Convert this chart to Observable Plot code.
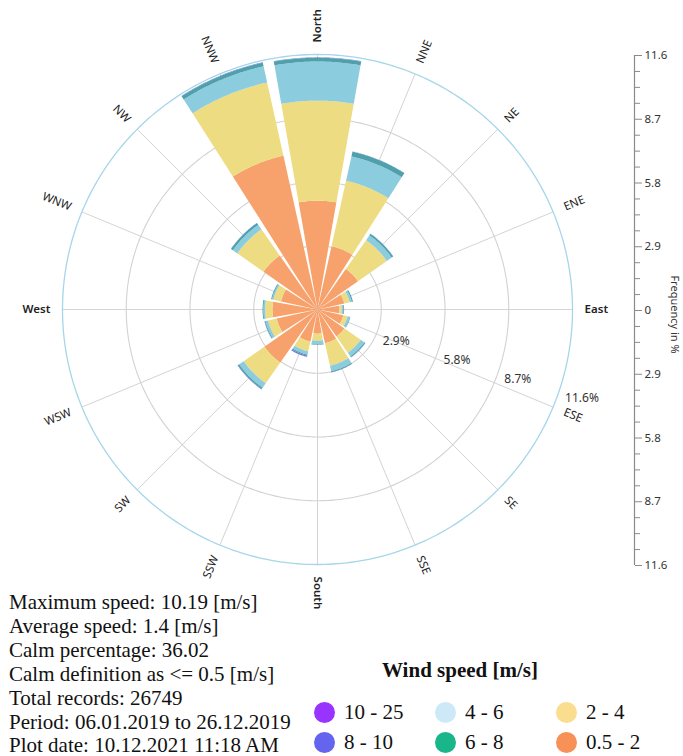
<!DOCTYPE html>
<html>
<head>
<meta charset="utf-8">
<script src="https://cdn.jsdelivr.net/npm/d3@7"></script>
<script src="https://cdn.jsdelivr.net/npm/@observablehq/plot@0.6"></script>
<style>
  body { margin: 0; background: #fff; }
  #wrap { position: relative; width: 683px; height: 756px; overflow: hidden; background: #fff; }
  #wrap svg { position: absolute; left: 0; top: 0; }
  .info { position: absolute; left: 9px; top: 591px; font-family: "Liberation Serif", "Times New Roman", serif; font-size: 21px; line-height: 23.9px; color: #111; white-space: nowrap; }
  .legtitle { position: absolute; left: 360px; width: 200px; top: 658px; text-align: center; font-family: "Liberation Serif", serif; font-weight: bold; font-size: 21px; line-height: 24px; color: #111; white-space: nowrap; }
  .legdot { position: absolute; width: 21px; height: 21px; border-radius: 50%; }
  .leglab { position: absolute; font-family: "Liberation Serif", serif; font-size: 21px; line-height: 24px; color: #111; white-space: nowrap; }
</style>
</head>
<body>
<div id="wrap"></div>
<script>
// ---------- data ----------
const directions = ["North","NNE","NE","ENE","East","ESE","SE","SSE","South","SSW","SW","WSW","West","WNW","NW","NNW"];
const cardinals = ["North","East","South","West"];
const speedClasses = ["0.5 - 2","2 - 4","4 - 6","6 - 8","8 - 10","10 - 25"];

// frequency (%) per direction, one array per wind-speed class
const freq_05_2  = [4.95, 2.95, 2.25, 1.25, 1.00, 1.20, 1.50, 1.57, 1.10, 1.50, 2.95, 1.90, 2.05, 1.70, 3.00, 7.17];
const freq_2_4   = [4.55, 3.05, 1.60, 0.25, 0.10, 0.20, 0.90, 1.05, 0.32, 0.45, 1.15, 0.40, 0.33, 0.35, 1.45, 3.41];
const freq_4_6   = [1.78, 1.13, 0.27, 0.10, 0.07, 0.10, 0.20, 0.26, 0.16, 0.15, 0.25, 0.12, 0.08, 0.07, 0.25, 0.75];
const freq_6_8   = [0.17, 0.22, 0.08, 0.05, 0.03, 0.02, 0.05, 0.04, 0.02, 0.05, 0.07, 0.04, 0.04, 0.04, 0.10, 0.17];
const freq_8_10  = [0.02, 0.01, 0.01, 0.00, 0.01, 0.01, 0.01, 0.01, 0.01, 0.05, 0.02, 0.01, 0.00, 0.00, 0.01, 0.02];
const freq_10_25 = [0.00, 0.00, 0.00, 0.00, 0.00, 0.00, 0.00, 0.00, 0.00, 0.01, 0.00, 0.00, 0.00, 0.00, 0.00, 0.00];

const ringValues = [2.9, 5.8, 8.7, 11.6];
const ringLabels = ["2.9%", "5.8%", "8.7%", "11.6%"];
const axisTicks = [11.6, 8.7, 5.8, 2.9, 0, -2.9, -5.8, -8.7, -11.6];
const axisLabel = "Frequency in %";
const maxR = 11.6;

const infoLines = [
  "Maximum speed: 10.19 [m/s]",
  "Average speed: 1.4 [m/s]",
  "Calm percentage: 36.02",
  "Calm definition as <= 0.5 [m/s]",
  "Total records: 26749",
  "Period: 06.01.2019 to 26.12.2019",
  "Plot date: 10.12.2021 11:18 AM"
];
const legendTitle = "Wind speed [m/s]";

// colours
const barColors    = ["#F7A26D", "#EEDC82", "#8BCCDE", "#4FA0AB", "#5A80D2", "#9B40F0"];
const legendColors = ["#F79157", "#FADD8E", "#CDE9F8", "#19B68A", "#6464EE", "#9933FF"];

// ---------- derived table ----------
const series = [freq_05_2, freq_2_4, freq_4_6, freq_6_8, freq_8_10, freq_10_25];
const step = 360 / directions.length;
const dirTable = directions.map((name, i) => ({name, bearing: i * step}));

const lon = b => 180 - b;    // compass bearing -> longitude (pole-centred view)
const lat = r => 90 - r;     // frequency -> latitude

const halfWidth = 10;        // angular half-width of a petal (deg)
const features = [];
dirTable.forEach((d, i) => {
  let cum = 0;
  series.forEach((s, k) => {
    const v = s[i];
    if (v > 0) {
      const r0 = cum, r1 = cum + v;
      const a = lon(d.bearing) - halfWidth, b = lon(d.bearing) + halfWidth;
      const ring = [];
      const n = 40;
      if (r0 <= 0) ring.push([lon(d.bearing), 90]);
      else for (let j = 0; j <= n; j++) ring.push([a + (b - a) * j / n, lat(r0)]);
      for (let j = 0; j <= n; j++) ring.push([b - (b - a) * j / n, lat(r1)]);
      ring.push(ring[0]);
      features.push({type: "Feature", properties: {dir: d.name, cls: speedClasses[k]}, geometry: {type: "Polygon", coordinates: [ring]}});
    }
    cum += v;
  });
});

const labelR = 12.15;
const rightSide = dirTable.filter(d => d.bearing <= 180);
const leftSide = dirTable.filter(d => d.bearing > 180);
const isCard = d => cardinals.includes(d.name);

const labelOpts = (anchor, rot, weight) => ({
  x: d => lon(d.bearing), y: () => lat(labelR), text: d => d.name,
  rotate: rot, textAnchor: anchor, fontSize: 11.5, fontWeight: weight, fill: "#222"
});

const rose = Plot.plot({
  width: 683, height: 756,
  marginLeft: 62, marginRight: 111, marginTop: 54, marginBottom: 192,
  projection: {type: "azimuthal-equidistant", rotate: [0, -90], clip: false, domain: d3.geoCircle().center([0, 90]).radius(maxR)()},
  color: {domain: speedClasses, range: barColors},
  style: {fontFamily: "'Noto Sans', sans-serif", background: "transparent", overflow: "visible"},
  marks: [
    Plot.link(dirTable, {x1: d => lon(d.bearing), y1: () => 90, x2: d => lon(d.bearing), y2: () => lat(maxR), stroke: "#d4d4d4", strokeWidth: 1}),
    Plot.geo(ringValues.slice(0, -1).map(r => d3.geoCircle().center([0, 90]).radius(r).precision(1)()), {stroke: "#d2d2d2", strokeWidth: 1.1, fill: "none"}),
    Plot.geo([d3.geoCircle().center([0, 90]).radius(maxR).precision(1)()], {stroke: "#a6d6ea", strokeWidth: 1.3, fill: "none"}),
    Plot.geo(features, {fill: d => d.properties.cls, stroke: "none"}),
    Plot.text(ringValues, {x: () => lon(107.6), y: r => lat(r), text: (d, i) => ringLabels[i], dx: 4.5, dy: 12, textAnchor: "start", fontSize: 12, fill: "#333"}),
    Plot.text(rightSide.filter(d => !isCard(d)), labelOpts("start", d => d.bearing - 90, "normal")),
    Plot.text(rightSide.filter(isCard), labelOpts("start", d => d.bearing - 90, "600")),
    Plot.text(leftSide.filter(d => !isCard(d)), labelOpts("end", d => d.bearing - 270, "normal")),
    Plot.text(leftSide.filter(isCard), labelOpts("end", d => d.bearing - 270, "600"))
  ]
});

const minorTicks = d3.range(-16, 17).map(i => i * 0.725).filter(v => Math.abs(Math.round(v / 0.725)) % 4 !== 0);
const fmt = d => d === 0 ? "0" : Math.abs(d).toFixed(1);

const axis = Plot.plot({
  width: 683, height: 756,
  marginTop: 55, marginBottom: 191, marginLeft: 0, marginRight: 49,
  x: {domain: [0, 1], axis: null},
  y: {domain: [-11.6, 11.6], axis: null},
  style: {fontFamily: "'Noto Sans', sans-serif", background: "transparent", overflow: "visible"},
  marks: [
    Plot.ruleX([1], {y1: -11.6, y2: 11.6, stroke: "#8a8a8a", strokeWidth: 1.2}),
    Plot.axisY(minorTicks, {anchor: "right", tickSize: 5, tickFormat: () => "", stroke: "#8a8a8a", label: null}),
    Plot.axisY(axisTicks, {anchor: "right", tickSize: 7, tickPadding: 3, tickFormat: fmt, stroke: "#8a8a8a", fill: "#333", fontSize: 11.5, label: null}),
    Plot.text([axisLabel], {frameAnchor: "right", dx: 40, dy: 4, rotate: 90, textAnchor: "middle", fontSize: 11, fill: "#333"})
  ]
});

const wrap = document.getElementById("wrap");
wrap.appendChild(rose);
wrap.appendChild(axis);

// info text
const info = document.createElement("div");
info.className = "info";
info.innerHTML = infoLines.map(s => s.replace(/&/g, "&amp;").replace(/</g, "&lt;")).join("<br>");
wrap.appendChild(info);

// legend
const lt = document.createElement("div");
lt.className = "legtitle";
lt.textContent = legendTitle;
wrap.appendChild(lt);

const legendOrder = [5, 4, 2, 3, 1, 0];   // column-wise: 10-25, 8-10 | 4-6, 6-8 | 2-4, 0.5-2
const colX = [324, 445, 566];
const rowY = [712, 742];
legendOrder.forEach((k, j) => {
  const c = Math.floor(j / 2), r = j % 2;
  const dot = document.createElement("div");
  dot.className = "legdot";
  dot.style.left = (colX[c] - 10.5) + "px";
  dot.style.top = (rowY[r] - 10.5) + "px";
  dot.style.background = legendColors[k];
  wrap.appendChild(dot);
  const lab = document.createElement("div");
  lab.className = "leglab";
  lab.style.left = (colX[c] + 20) + "px";
  lab.style.top = (rowY[r] - 12) + "px";
  lab.textContent = speedClasses[k];
  wrap.appendChild(lab);
});
</script>
</body>
</html>
